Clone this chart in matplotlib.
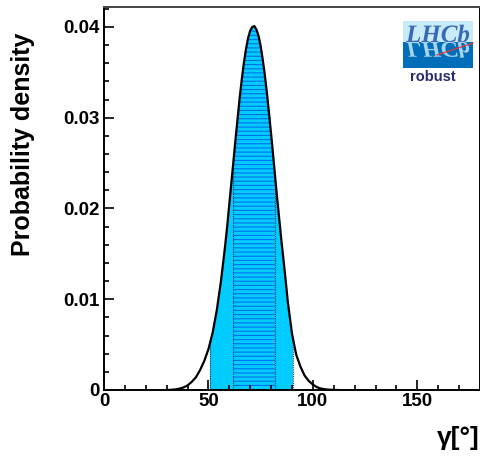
import numpy as np
import matplotlib
matplotlib.use("Agg")
import matplotlib.pyplot as plt
from matplotlib.patches import Rectangle, PathPatch
from matplotlib.textpath import TextPath
from matplotlib.font_manager import FontProperties
from matplotlib.transforms import Affine2D
from matplotlib.ticker import MultipleLocator

# posterior for gamma
gamma_deg = [30, 32, 34, 36, 38, 40, 42, 44, 46, 48, 50, 52, 54, 56, 58,
             59, 60, 61, 62, 63, 64, 65, 66, 67, 68, 69, 70, 71, 72, 73,
             74, 75, 76, 77, 78, 79, 80, 81, 82, 83, 84, 85, 86, 87, 88,
             90, 92, 94, 96, 98, 100, 102, 104, 106, 108, 110, 112]
density = [0.0, 0.00002, 0.00006, 0.00014, 0.00028, 0.0005, 0.0009, 0.0014,
           0.0022, 0.0032, 0.0045, 0.0063, 0.0088, 0.0120, 0.0159,
           0.0181, 0.0205, 0.0229, 0.0253, 0.0277, 0.0300, 0.0323, 0.0343,
           0.0361, 0.0376, 0.0388, 0.0396, 0.0400, 0.0401, 0.0397,
           0.0390, 0.0379, 0.0364, 0.0347, 0.0327, 0.0305, 0.0282, 0.0258,
           0.0233, 0.0209, 0.0186, 0.0163, 0.0142, 0.0120, 0.0097,
           0.0062, 0.0039, 0.0026, 0.0016, 0.0010, 0.0006, 0.0003, 0.00015,
           0.00007, 0.00003, 0.00001, 0.0]
ci68 = (61.6, 82.1)
ci95 = (50.6, 90.3)

yticks = [0, 0.01, 0.02, 0.03, 0.04]
ytick_labels = ["0", "0.01", "0.02", "0.03", "0.04"]
xticks = [0, 50, 100, 150]

W, H = 481, 458
plt.rcParams["font.family"] = ["Liberation Sans", "DejaVu Sans"]
plt.rcParams["font.weight"] = "bold"
plt.rcParams["hatch.linewidth"] = 0.8

fig = plt.figure(figsize=(W / 100, H / 100), dpi=100)
ax = fig.add_axes([104 / W, 1 - 390 / H, 376 / W, 383 / H])

cyan = "#00ccff"
fill95 = ax.fill_between(gamma_deg, density, 0, facecolor=cyan, linewidth=0)
fill95.set_clip_path(Rectangle((ci95[0], 0), ci95[1] - ci95[0], 1,
                               transform=ax.transData))
fill68 = ax.fill_between(gamma_deg, density, 0, facecolor="none",
                         edgecolor="#0070f0", hatch="----", linewidth=0)
fill68.set_clip_path(Rectangle((ci68[0], 0), ci68[1] - ci68[0], 1,
                               transform=ax.transData))

# dotted edges of the intervals, cut at the curve
shape = ax.fill_between(gamma_deg, density, 0, facecolor="none", linewidth=0)
for xv in list(ci68) + list(ci95):
    ln = ax.axvline(xv, color="#333355", linestyle=(0, (1, 1)), linewidth=0.8)
    ln.set_clip_path(shape.get_paths()[0], ax.transData)

ax.plot(gamma_deg, density, color="black", linewidth=1.6)

ax.set_xlim(0, 180)
ax.set_ylim(0, 0.0422)
ax.set_xticks(xticks)
ax.set_xticklabels([str(v) for v in xticks])
ax.xaxis.set_minor_locator(MultipleLocator(10))
ax.set_yticks(yticks)
ax.set_yticklabels(ytick_labels)
ax.yaxis.set_minor_locator(MultipleLocator(0.002))
ax.tick_params(which="both", direction="in", top=False, right=False,
               labelsize=13.5, width=1.2, color="black")
ax.tick_params(which="major", length=7)
ax.tick_params(which="minor", length=3.6)
ax.tick_params(axis="x", pad=2)
ax.tick_params(axis="y", pad=3)
for sp in ax.spines.values():
    sp.set_linewidth(1.4)
ax.spines["top"].set_color("#444444")

ax.set_xlabel("γ[°]", fontsize=19, fontweight="bold", loc="right", labelpad=12)
fig.text(23 / W, 1 - 144 / H, "Probability density", rotation=90,
         fontsize=18, fontweight="bold", ha="center", va="center")

# LHCb logo, drawn in pixel coordinates
x0, x1, ytop, ymid, ybot = 403, 473, 21, 42, 68
fig.add_artist(Rectangle((x0, H - ymid), x1 - x0, ymid - ytop,
                         facecolor="#c8ebfa", edgecolor="none",
                         transform=None))
fig.add_artist(Rectangle((x0, H - ybot), x1 - x0, ybot - ymid,
                         facecolor="#006eb9", edgecolor="none",
                         transform=None))
fp = FontProperties(family="Liberation Serif", style="italic")
tp = TextPath((0, 0), "LHCb", size=25, prop=fp)
fig.add_artist(PathPatch(tp, facecolor="#3a6ab4", edgecolor="none",
                         transform=Affine2D().translate(406, H - ymid)))
fig.add_artist(PathPatch(tp, facecolor="#a8d4ee", edgecolor="none",
                         transform=Affine2D().scale(1.0, -0.9).translate(406, H - ymid)))
fig.add_artist(plt.Line2D([437, 473], [H - 55, H - 43], color="#e03c3c",
                          linewidth=0.9, transform=None))
fig.text(433 / W, 1 - 77 / H, "robust", fontsize=10.5, fontweight="bold",
         color="#2a2a6e", ha="center", va="center")

fig.savefig("out.png", dpi=100)
